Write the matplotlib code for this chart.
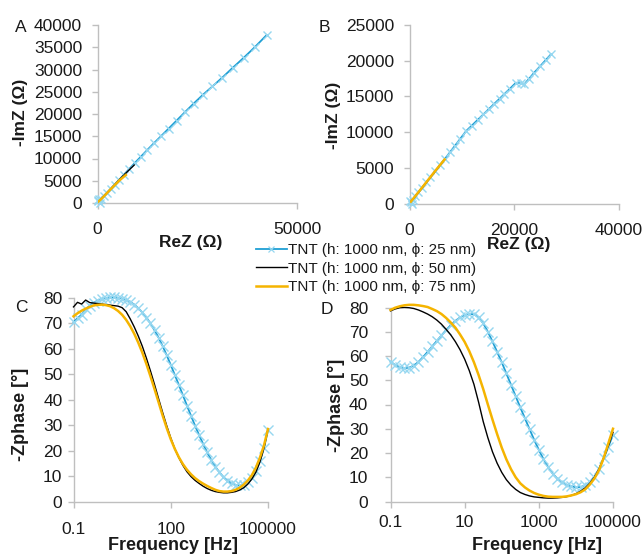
import matplotlib
matplotlib.use("Agg")
import matplotlib.pyplot as plt
from matplotlib.lines import Line2D
from matplotlib.transforms import Affine2D

plt.rcParams['font.family'] = ['Liberation Sans', 'DejaVu Sans']

# ---------------- data ----------------
labels = ["TNT (h: 1000 nm, ϕ: 25 nm)", "TNT (h: 1000 nm, ϕ: 50 nm)", "TNT (h: 1000 nm, ϕ: 75 nm)"]

# Panel A (Nyquist)
a25_re = [700, 250, 100, 400, 900, 1600, 2400, 3300, 4300, 5400, 6600, 7900, 9300, 10800, 12400, 14100,
          15900, 17800, 19800, 21900, 24100, 26400, 28800, 31300, 33900, 36600, 39400, 42400]
a25_im = [100, 350, 700, 800, 1000, 1600, 2350, 3200, 4150, 5200, 6350, 7600, 8950, 10350, 11850, 13400,
          15000, 16700, 18500, 20400, 22350, 24300, 26200, 28200, 30400, 32600, 35000, 37750]
a50_re = [300, 800, 1800, 3000, 4500, 6200, 8000, 9200]
a50_im = [400, 800, 1700, 2850, 4300, 5900, 7500, 8530]
a75_re = [250, 700, 1500, 2600, 3900, 5400, 7100]
a75_im = [350, 700, 1400, 2450, 3650, 5000, 6300]

# Panel B (Nyquist)
b25_re = [500, 0, 200, 600, 1100, 1700, 2400, 3200, 4000, 4900, 5800, 6700, 7700, 8600, 9700, 10800, 11900,
          13000, 14100, 15100, 16200, 17200, 18100, 19200, 20300, 21300, 21900, 22800, 23800, 24900, 26000, 27000]
b25_im = [-100, 300, 180, 550, 1010, 1570, 2220, 2960, 3700, 4530, 5360, 6190, 7150, 8010, 9070, 10140, 10920,
          11700, 12480, 13190, 13970, 14680, 15320, 16100, 16900, 16920, 16680, 17450, 18320, 19190, 20080, 20890]
b50_re = [300, 1000, 2200, 3600, 5000, 6300]
b50_im = [300, 900, 2000, 3300, 4600, 5800]
b75_re = [250, 900, 2000, 3400, 4900, 6700]
b75_im = [250, 850, 1850, 3150, 4550, 6170]

# Bode frequency grid (Hz)
freq = [0.1, 0.133, 0.178, 0.237, 0.316, 0.422, 0.562, 0.75,
        1, 1.33, 1.78, 2.37, 3.16, 4.22, 5.62, 7.5,
        10, 13.3, 17.8, 23.7, 31.6, 42.2, 56.2, 75,
        100, 133, 178, 237, 316, 422, 562, 750,
        1000, 1330, 1780, 2370, 3160, 4220, 5620, 7500,
        10000, 13300, 17800, 23700, 31600, 42200, 56200, 75000, 100000]

# Panel C (Bode phase)
c25 = [70.5, 72, 73.5, 75.5, 77, 78.2, 79, 79.6, 80, 80.2, 80.2, 80.1, 79.8, 79.2, 78.5, 77.4, 76, 74.3,
       72.3, 70, 67.3, 64.4, 61.1, 57.5, 53.7, 49.8, 45.8, 41.8, 37.7, 33.7, 29.8, 26.1, 22.6, 19.3, 16.3,
       13.7, 11.5, 9.6, 8.2, 7.1, 6.5, 6.3, 6.6, 7.6, 9.3, 12, 15.8, 21, 28]
c50 = [76.5, 78.3, 77.6, 79.2, 78.2, 78, 77.8, 77.6, 77.4, 77.2, 77, 76.8, 76.2, 74.6, 71.8, 68.6, 65,
       61, 56.3, 51.3, 46, 40.4, 35, 29.8, 25, 20.8, 17.2, 14.2, 11.7, 9.8, 8.3, 7.1, 6, 5.1, 4.4, 3.9, 3.6,
       3.4, 3.4, 3.6, 3.9, 4.5, 5.4, 6.8, 8.8, 11.5, 15.5, 21, 28.5]
c75 = [72.8, 74, 75, 75.8, 76.5, 77.1, 77.3, 77.4, 77.2, 76.8, 76, 74.9, 73.4, 71.4, 68.9, 65.9, 62.4,
       58.5, 54, 49.2, 44.2, 39, 33.8, 28.9, 24.5, 20.7, 17.4, 14.7, 12.5, 10.7, 9.2, 8, 7, 6.1, 5.3, 4.6,
       4.1, 3.9, 3.9, 4.1, 4.6, 5.4, 6.6, 8.2, 10.3, 13.3, 17.2, 22, 28.5]

# Panel D (Bode phase)
d25 = [57.6, 56.3, 55.4, 55, 55.2, 56, 57.5, 59.5, 61.7, 64, 66.2, 68.5, 70.7, 72.7, 74.5, 75.9, 76.9,
       77.4, 77.2, 76, 73.5, 70, 66, 61.7, 57.4, 52.8, 48.1, 43.4, 38.8, 34.3, 29.8, 25.4, 21.3, 17.5,
       14.2, 11.5, 9.4, 7.9, 6.9, 6.2, 5.9, 6, 6.6, 8, 10.3, 13.5, 17.8, 22.5, 27.5]
d50 = [78.6, 79.4, 79.9, 80, 79.9, 79.6, 79, 78.2, 77.3, 76.2, 74.8, 73.1, 71, 68.7, 65.9, 62.6, 58.7,
       54, 48.3, 41, 33, 26.3, 20.5, 15.8, 12, 9, 6.7, 5, 3.7, 2.9, 2.3, 1.9, 1.7, 1.5, 1.4, 1.4, 1.5, 1.7,
       2, 2.5, 3.2, 4.2, 5.6, 7.5, 10, 13.5, 18, 23, 28.5]
d75 = [79, 79.9, 80.5, 80.9, 81.1, 81.1, 80.9, 80.6, 80.2, 79.4, 78.5, 77.3, 75.7, 73.8, 71.7, 68.9, 65.8,
       62, 57.4, 52.2, 46.4, 40, 33.8, 27.8, 22.2, 17.4, 13.3, 10, 7.5, 5.8, 4.5, 3.5, 2.8, 2.3, 2, 1.9, 1.9,
       1.9, 2.1, 2.5, 3, 3.8, 5, 7, 9.5, 13, 18, 24, 30]

a_yticks = [0, 5000, 10000, 15000, 20000, 25000, 30000, 35000, 40000]
a_xticks = [0, 50000]
b_yticks = [0, 5000, 10000, 15000, 20000, 25000]
b_xticks = [0, 20000, 40000]
phase_ticks = [0, 10, 20, 30, 40, 50, 60, 70, 80]
c_xticks = [0.1, 100, 100000]
c_xlabels = ["0.1", "100", "100000"]
d_xticks = [0.1, 10, 1000, 100000]
d_xlabels = ["0.1", "10", "1000", "100000"]

# ---------------- style ----------------
W, H = 644, 554
CYAN_LINE = '#1f9fd4'
CYAN_MK = '#96d7f0'
BLACK = '#000000'
GOLD = '#f5b400'
AX = '#bfbfbf'
TXT = '#1a1a1a'

fig = plt.figure(figsize=(W / 100, H / 100), dpi=100)
pix = Affine2D().scale(1.0 / W, -1.0 / H).translate(0, 1) + fig.transFigure


def axes_px(l, t, r, b):
    return fig.add_axes([l / W, 1 - b / H, (r - l) / W, (b - t) / H])


def style(ax, xpad, ypad):
    for s in ['top', 'right']:
        ax.spines[s].set_visible(False)
    for s in ['left', 'bottom']:
        ax.spines[s].set_color(AX)
        ax.spines[s].set_linewidth(1.0)
    ax.tick_params(axis='both', direction='out', length=4, width=1, color=AX,
                   labelsize=12.5, labelcolor=TXT)
    ax.tick_params(axis='x', pad=xpad)
    ax.tick_params(axis='y', pad=ypad)
    ax.set_facecolor('none')


def cyan(ax, x, y, ms=7):
    ax.plot(x, y, color=CYAN_LINE, lw=1.3, marker='x', ms=ms, mec=CYAN_MK, mew=1.0,
            clip_on=False, zorder=3)


def set_labels(ax, xl, yl, xpos, ypos, size=12.5):
    ax.set_xlabel(xl, fontsize=size, fontweight='bold', color=TXT)
    ax.set_ylabel(yl, fontsize=size, fontweight='bold', color=TXT)
    ax.xaxis.label.set_va('center')
    ax.yaxis.label.set_va('center')
    ax.xaxis.set_label_coords(xpos[0], xpos[1], transform=pix)
    ax.yaxis.set_label_coords(ypos[0], ypos[1], transform=pix)


# Panel A
axA = axes_px(97.5, 25, 297, 203)
style(axA, 10, 7)
cyan(axA, a25_re, a25_im, ms=6)
axA.plot(a50_re, a50_im, color=BLACK, lw=1.0, zorder=4)
axA.plot(a75_re, a75_im, color=GOLD, lw=1.8, zorder=5)
axA.set_xlim(0, 50000)
axA.set_ylim(0, 40000)
axA.set_xticks(a_xticks)
axA.set_yticks(a_yticks)
set_labels(axA, "ReZ (Ω)", "-ImZ (Ω)", (191, 243), (21, 112))

# Panel B
axB = axes_px(409.5, 25, 619, 203.5)
style(axB, 10, 7)
cyan(axB, b25_re, b25_im, ms=6)
axB.plot(b50_re, b50_im, color=BLACK, lw=1.0, zorder=4)
axB.plot(b75_re, b75_im, color=GOLD, lw=1.8, zorder=5)
axB.set_xlim(0, 40000)
axB.set_ylim(0, 25000)
axB.set_xticks(b_xticks)
axB.set_yticks(b_yticks)
set_labels(axB, "ReZ (Ω)", "-ImZ (Ω)", (519, 244), (334, 115))

# Panel C
axC = axes_px(73.5, 298, 268, 501.5)
style(axC, 11, 4)
cyan(axC, freq, c25)
axC.plot(freq, c50, color=BLACK, lw=1.0, zorder=4, clip_on=False)
axC.plot(freq, c75, color=GOLD, lw=1.8, zorder=5, clip_on=False)
axC.set_xscale('log')
axC.set_xlim(0.1, 100000)
axC.set_ylim(0, 80)
axC.set_xticks(c_xticks)
axC.set_xticklabels(c_xlabels)
axC.minorticks_off()
axC.set_yticks(phase_ticks)
set_labels(axC, "Frequency [Hz]", "-Zphase [°]", (173, 546), (21, 414), size=13)

# Panel D
axD = axes_px(390.5, 307.5, 613, 501.5)
style(axD, 6, 12)
cyan(axD, freq, d25)
axD.plot(freq, d50, color=BLACK, lw=1.0, zorder=4, clip_on=False)
axD.plot(freq, d75, color=GOLD, lw=1.8, zorder=5, clip_on=False)
axD.set_xscale('log')
axD.set_xlim(0.1, 100000)
axD.set_ylim(0, 80)
axD.set_xticks(d_xticks)
axD.set_xticklabels(d_xlabels)
axD.minorticks_off()
axD.set_yticks(phase_ticks)
set_labels(axD, "Frequency [Hz]", "-Zphase [°]", (537, 546), (337, 405), size=13)

# panel letters
for letter, (px, py) in zip("ABCD", [(21, 27), (324, 28), (21, 307), (327, 310)]):
    fig.text(px, py, letter, transform=pix, fontsize=12.5, color=TXT, ha='center', va='center')

# legend
handles = [
    Line2D([], [], color=CYAN_LINE, lw=1.3, marker='x', ms=5, mec=CYAN_MK, mew=0.9, markevery=[1]),
    Line2D([], [], color=BLACK, lw=1.0),
    Line2D([], [], color=GOLD, lw=1.8),
]
fig.legend(handles, labels, loc='upper left', bbox_to_anchor=(256, 243), bbox_transform=pix,
           frameon=False, fontsize=11, handlelength=2.0, handletextpad=0.1, labelspacing=0.3,
           borderpad=0, borderaxespad=0, labelcolor=TXT)

fig.savefig("out.png", dpi=100)
